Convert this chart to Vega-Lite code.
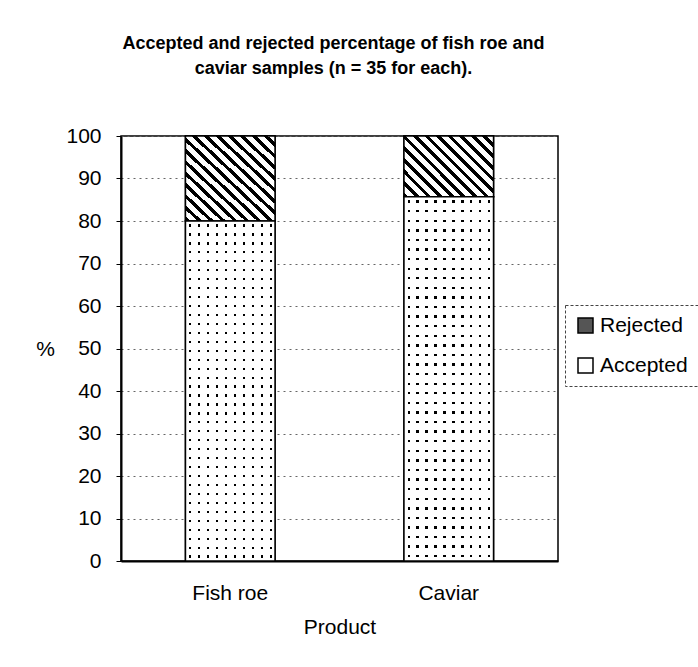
{
  "$schema": "https://vega.github.io/schema/vega-lite/v6.json",
  "width": 437,
  "height": 425,
  "autosize": {"type": "none"},
  "padding": {"left": 121, "top": 136, "right": 140, "bottom": 106},
  "background": "white",
  "config": {
    "font": "Liberation Sans",
    "view": {"stroke": "#000", "strokeWidth": 1.5}
  },
  "title": {
    "text": ["Accepted and rejected percentage of fish roe and", "caviar samples (n = 35 for each)."],
    "fontSize": 18,
    "fontWeight": "bold",
    "lineHeight": 25,
    "offset": 47,
    "dx": -6,
    "color": "#000",
    "anchor": "middle"
  },
  "data": {
    "values": [
      {"Product": "Fish roe", "Status": "Accepted", "Percent": 80},
      {"Product": "Fish roe", "Status": "Rejected", "Percent": 20},
      {"Product": "Caviar", "Status": "Accepted", "Percent": 85.7},
      {"Product": "Caviar", "Status": "Rejected", "Percent": 14.3}
    ]
  },
  "transform": [
    {"stack": "Percent", "groupby": ["Product"], "sort": [{"field": "Status", "order": "ascending"}], "as": ["y0", "y1"]}
  ],
  "encoding": {
    "x": {
      "field": "Product",
      "type": "nominal",
      "sort": ["Fish roe", "Caviar"],
      "scale": {"paddingInner": 0.59, "paddingOuter": 0.295},
      "axis": {
        "title": "Product",
        "labelAngle": 0,
        "labelFontSize": 21,
        "labelColor": "#000",
        "labelPadding": 21,
        "ticks": false,
        "domainColor": "#000",
        "domainWidth": 2,
        "titleFontSize": 21,
        "titleFontWeight": "normal",
        "titleColor": "#000",
        "titlePadding": 13
      }
    },
    "y": {
      "field": "y0",
      "type": "quantitative",
      "scale": {"domain": [0, 100]},
      "axis": {
        "title": "%",
        "titleAngle": 0,
        "titleX": -76,
        "titleY": 213,
        "titleAlign": "center",
        "titleBaseline": "middle",
        "titleFontSize": 21,
        "titleFontWeight": "normal",
        "titleColor": "#000",
        "values": [0, 10, 20, 30, 40, 50, 60, 70, 80, 90, 100],
        "labelFontSize": 21,
        "labelColor": "#000",
        "labelPadding": 15,
        "tickSize": 5,
        "tickColor": "#000",
        "domainColor": "#000",
        "domainWidth": 2,
        "gridDash": [2, 4],
        "gridColor": "#666",
        "gridWidth": 1
      }
    },
    "y2": {"field": "y1"}
  },
  "layer": [
    {
      "mark": {"type": "bar", "stroke": "#000", "strokeWidth": 1.5},
      "encoding": {
        "color": {
          "field": "Status",
          "type": "nominal",
          "scale": {"domain": ["Rejected", "Accepted"], "range": ["#555555", "#ffffff"]},
          "legend": {
            "orient": "none",
            "legendX": 444,
            "legendY": 169,
            "title": null,
            "padding": 10,
            "labelFontSize": 21,
            "labelColor": "#000",
            "labelOffset": 4,
            "symbolType": "square",
            "symbolSize": 225,
            "symbolStrokeColor": "#000",
            "symbolStrokeWidth": 1.5,
            "symbolOpacity": 1,
            "rowPadding": 18,
            "strokeColor": "#444",
            "encode": {
              "legend": {"update": {"strokeDash": {"value": [3, 2]}}}
            }
          }
        }
      }
    },
    {
      "transform": [{"filter": "datum.Status === 'Rejected' && datum.Product === 'Fish roe'"}],
      "mark": {
        "type": "bar",
        "stroke": "#000",
        "strokeWidth": 1.5,
        "fill": {
          "gradient": "linear", "x1": 0, "y1": 1, "x2": 1, "y2": 0,
          "stops": [
            {"offset": 0, "color": "#000"}, {"offset": 0.027, "color": "#000"}, {"offset": 0.027, "color": "#fff"}, {"offset": 0.0667, "color": "#fff"},
            {"offset": 0.0667, "color": "#000"}, {"offset": 0.0937, "color": "#000"}, {"offset": 0.0937, "color": "#fff"}, {"offset": 0.1333, "color": "#fff"},
            {"offset": 0.1333, "color": "#000"}, {"offset": 0.1603, "color": "#000"}, {"offset": 0.1603, "color": "#fff"}, {"offset": 0.2, "color": "#fff"},
            {"offset": 0.2, "color": "#000"}, {"offset": 0.227, "color": "#000"}, {"offset": 0.227, "color": "#fff"}, {"offset": 0.2667, "color": "#fff"},
            {"offset": 0.2667, "color": "#000"}, {"offset": 0.2937, "color": "#000"}, {"offset": 0.2937, "color": "#fff"}, {"offset": 0.3333, "color": "#fff"},
            {"offset": 0.3333, "color": "#000"}, {"offset": 0.3603, "color": "#000"}, {"offset": 0.3603, "color": "#fff"}, {"offset": 0.4, "color": "#fff"},
            {"offset": 0.4, "color": "#000"}, {"offset": 0.427, "color": "#000"}, {"offset": 0.427, "color": "#fff"}, {"offset": 0.4667, "color": "#fff"},
            {"offset": 0.4667, "color": "#000"}, {"offset": 0.4937, "color": "#000"}, {"offset": 0.4937, "color": "#fff"}, {"offset": 0.5333, "color": "#fff"},
            {"offset": 0.5333, "color": "#000"}, {"offset": 0.5603, "color": "#000"}, {"offset": 0.5603, "color": "#fff"}, {"offset": 0.6, "color": "#fff"},
            {"offset": 0.6, "color": "#000"}, {"offset": 0.627, "color": "#000"}, {"offset": 0.627, "color": "#fff"}, {"offset": 0.6667, "color": "#fff"},
            {"offset": 0.6667, "color": "#000"}, {"offset": 0.6937, "color": "#000"}, {"offset": 0.6937, "color": "#fff"}, {"offset": 0.7333, "color": "#fff"},
            {"offset": 0.7333, "color": "#000"}, {"offset": 0.7603, "color": "#000"}, {"offset": 0.7603, "color": "#fff"}, {"offset": 0.8, "color": "#fff"},
            {"offset": 0.8, "color": "#000"}, {"offset": 0.827, "color": "#000"}, {"offset": 0.827, "color": "#fff"}, {"offset": 0.8667, "color": "#fff"},
            {"offset": 0.8667, "color": "#000"}, {"offset": 0.8937, "color": "#000"}, {"offset": 0.8937, "color": "#fff"}, {"offset": 0.9333, "color": "#fff"},
            {"offset": 0.9333, "color": "#000"}, {"offset": 0.9603, "color": "#000"}, {"offset": 0.9603, "color": "#fff"}, {"offset": 1, "color": "#fff"}
          ]
        }
      }
    },
    {
      "transform": [{"filter": "datum.Status === 'Rejected' && datum.Product === 'Caviar'"}],
      "mark": {
        "type": "bar",
        "stroke": "#000",
        "strokeWidth": 1.5,
        "fill": {
          "gradient": "linear", "x1": 0, "y1": 1, "x2": 1.15, "y2": 0.222,
          "stops": [
            {"offset": 0, "color": "#000"}, {"offset": 0.031, "color": "#000"}, {"offset": 0.031, "color": "#fff"}, {"offset": 0.0769, "color": "#fff"},
            {"offset": 0.0769, "color": "#000"}, {"offset": 0.1079, "color": "#000"}, {"offset": 0.1079, "color": "#fff"}, {"offset": 0.1538, "color": "#fff"},
            {"offset": 0.1538, "color": "#000"}, {"offset": 0.1848, "color": "#000"}, {"offset": 0.1848, "color": "#fff"}, {"offset": 0.2308, "color": "#fff"},
            {"offset": 0.2308, "color": "#000"}, {"offset": 0.2618, "color": "#000"}, {"offset": 0.2618, "color": "#fff"}, {"offset": 0.3077, "color": "#fff"},
            {"offset": 0.3077, "color": "#000"}, {"offset": 0.3387, "color": "#000"}, {"offset": 0.3387, "color": "#fff"}, {"offset": 0.3846, "color": "#fff"},
            {"offset": 0.3846, "color": "#000"}, {"offset": 0.4156, "color": "#000"}, {"offset": 0.4156, "color": "#fff"}, {"offset": 0.4615, "color": "#fff"},
            {"offset": 0.4615, "color": "#000"}, {"offset": 0.4925, "color": "#000"}, {"offset": 0.4925, "color": "#fff"}, {"offset": 0.5385, "color": "#fff"},
            {"offset": 0.5385, "color": "#000"}, {"offset": 0.5695, "color": "#000"}, {"offset": 0.5695, "color": "#fff"}, {"offset": 0.6154, "color": "#fff"},
            {"offset": 0.6154, "color": "#000"}, {"offset": 0.6464, "color": "#000"}, {"offset": 0.6464, "color": "#fff"}, {"offset": 0.6923, "color": "#fff"},
            {"offset": 0.6923, "color": "#000"}, {"offset": 0.7233, "color": "#000"}, {"offset": 0.7233, "color": "#fff"}, {"offset": 0.7692, "color": "#fff"},
            {"offset": 0.7692, "color": "#000"}, {"offset": 0.8002, "color": "#000"}, {"offset": 0.8002, "color": "#fff"}, {"offset": 0.8462, "color": "#fff"},
            {"offset": 0.8462, "color": "#000"}, {"offset": 0.8772, "color": "#000"}, {"offset": 0.8772, "color": "#fff"}, {"offset": 0.9231, "color": "#fff"},
            {"offset": 0.9231, "color": "#000"}, {"offset": 0.9541, "color": "#000"}, {"offset": 0.9541, "color": "#fff"}, {"offset": 1, "color": "#fff"}
          ]
        }
      }
    },
    {
      "transform": [{"filter": "datum.Status === 'Accepted'"}],
      "mark": {
        "type": "bar",
        "fill": {
          "gradient": "linear", "x1": 0, "y1": 0, "x2": 1, "y2": 0,
          "stops": [
            {"offset": 0, "color": "#fff"},
            {"offset": 0.04, "color": "#fff"}, {"offset": 0.04, "color": "#000"}, {"offset": 0.065, "color": "#000"}, {"offset": 0.065, "color": "#fff"},
            {"offset": 0.14, "color": "#fff"}, {"offset": 0.14, "color": "#000"}, {"offset": 0.165, "color": "#000"}, {"offset": 0.165, "color": "#fff"},
            {"offset": 0.24, "color": "#fff"}, {"offset": 0.24, "color": "#000"}, {"offset": 0.265, "color": "#000"}, {"offset": 0.265, "color": "#fff"},
            {"offset": 0.34, "color": "#fff"}, {"offset": 0.34, "color": "#000"}, {"offset": 0.365, "color": "#000"}, {"offset": 0.365, "color": "#fff"},
            {"offset": 0.44, "color": "#fff"}, {"offset": 0.44, "color": "#000"}, {"offset": 0.465, "color": "#000"}, {"offset": 0.465, "color": "#fff"},
            {"offset": 0.54, "color": "#fff"}, {"offset": 0.54, "color": "#000"}, {"offset": 0.565, "color": "#000"}, {"offset": 0.565, "color": "#fff"},
            {"offset": 0.64, "color": "#fff"}, {"offset": 0.64, "color": "#000"}, {"offset": 0.665, "color": "#000"}, {"offset": 0.665, "color": "#fff"},
            {"offset": 0.74, "color": "#fff"}, {"offset": 0.74, "color": "#000"}, {"offset": 0.765, "color": "#000"}, {"offset": 0.765, "color": "#fff"},
            {"offset": 0.84, "color": "#fff"}, {"offset": 0.84, "color": "#000"}, {"offset": 0.865, "color": "#000"}, {"offset": 0.865, "color": "#fff"},
            {"offset": 0.94, "color": "#fff"}, {"offset": 0.94, "color": "#000"}, {"offset": 0.965, "color": "#000"}, {"offset": 0.965, "color": "#fff"},
            {"offset": 1, "color": "#fff"}
          ]
        }
      }
    },
    {
      "transform": [{"filter": "datum.Status === 'Accepted'"}],
      "mark": {
        "type": "bar",
        "stroke": "#000",
        "strokeWidth": 1.5,
        "fill": {
          "gradient": "linear", "x1": 0, "y1": 0, "x2": 0, "y2": 1,
          "stops": [
            {"offset": 0, "color": "#fff"},
            {"offset": 0.01, "color": "#fff"}, {"offset": 0.01, "color": "rgba(255,255,255,0)"}, {"offset": 0.0165, "color": "rgba(255,255,255,0)"}, {"offset": 0.0165, "color": "#fff"},
            {"offset": 0.03632, "color": "#fff"}, {"offset": 0.03632, "color": "rgba(255,255,255,0)"}, {"offset": 0.04282, "color": "rgba(255,255,255,0)"}, {"offset": 0.04282, "color": "#fff"},
            {"offset": 0.06263, "color": "#fff"}, {"offset": 0.06263, "color": "rgba(255,255,255,0)"}, {"offset": 0.06913, "color": "rgba(255,255,255,0)"}, {"offset": 0.06913, "color": "#fff"},
            {"offset": 0.08895, "color": "#fff"}, {"offset": 0.08895, "color": "rgba(255,255,255,0)"}, {"offset": 0.09545, "color": "rgba(255,255,255,0)"}, {"offset": 0.09545, "color": "#fff"},
            {"offset": 0.11526, "color": "#fff"}, {"offset": 0.11526, "color": "rgba(255,255,255,0)"}, {"offset": 0.12176, "color": "rgba(255,255,255,0)"}, {"offset": 0.12176, "color": "#fff"},
            {"offset": 0.14158, "color": "#fff"}, {"offset": 0.14158, "color": "rgba(255,255,255,0)"}, {"offset": 0.14808, "color": "rgba(255,255,255,0)"}, {"offset": 0.14808, "color": "#fff"},
            {"offset": 0.16789, "color": "#fff"}, {"offset": 0.16789, "color": "rgba(255,255,255,0)"}, {"offset": 0.17439, "color": "rgba(255,255,255,0)"}, {"offset": 0.17439, "color": "#fff"},
            {"offset": 0.19421, "color": "#fff"}, {"offset": 0.19421, "color": "rgba(255,255,255,0)"}, {"offset": 0.20071, "color": "rgba(255,255,255,0)"}, {"offset": 0.20071, "color": "#fff"},
            {"offset": 0.22053, "color": "#fff"}, {"offset": 0.22053, "color": "rgba(255,255,255,0)"}, {"offset": 0.22703, "color": "rgba(255,255,255,0)"}, {"offset": 0.22703, "color": "#fff"},
            {"offset": 0.24684, "color": "#fff"}, {"offset": 0.24684, "color": "rgba(255,255,255,0)"}, {"offset": 0.25334, "color": "rgba(255,255,255,0)"}, {"offset": 0.25334, "color": "#fff"},
            {"offset": 0.27316, "color": "#fff"}, {"offset": 0.27316, "color": "rgba(255,255,255,0)"}, {"offset": 0.27966, "color": "rgba(255,255,255,0)"}, {"offset": 0.27966, "color": "#fff"},
            {"offset": 0.29947, "color": "#fff"}, {"offset": 0.29947, "color": "rgba(255,255,255,0)"}, {"offset": 0.30597, "color": "rgba(255,255,255,0)"}, {"offset": 0.30597, "color": "#fff"},
            {"offset": 0.32579, "color": "#fff"}, {"offset": 0.32579, "color": "rgba(255,255,255,0)"}, {"offset": 0.33229, "color": "rgba(255,255,255,0)"}, {"offset": 0.33229, "color": "#fff"},
            {"offset": 0.35211, "color": "#fff"}, {"offset": 0.35211, "color": "rgba(255,255,255,0)"}, {"offset": 0.35861, "color": "rgba(255,255,255,0)"}, {"offset": 0.35861, "color": "#fff"},
            {"offset": 0.37842, "color": "#fff"}, {"offset": 0.37842, "color": "rgba(255,255,255,0)"}, {"offset": 0.38492, "color": "rgba(255,255,255,0)"}, {"offset": 0.38492, "color": "#fff"},
            {"offset": 0.40474, "color": "#fff"}, {"offset": 0.40474, "color": "rgba(255,255,255,0)"}, {"offset": 0.41124, "color": "rgba(255,255,255,0)"}, {"offset": 0.41124, "color": "#fff"},
            {"offset": 0.43105, "color": "#fff"}, {"offset": 0.43105, "color": "rgba(255,255,255,0)"}, {"offset": 0.43755, "color": "rgba(255,255,255,0)"}, {"offset": 0.43755, "color": "#fff"},
            {"offset": 0.45737, "color": "#fff"}, {"offset": 0.45737, "color": "rgba(255,255,255,0)"}, {"offset": 0.46387, "color": "rgba(255,255,255,0)"}, {"offset": 0.46387, "color": "#fff"},
            {"offset": 0.48368, "color": "#fff"}, {"offset": 0.48368, "color": "rgba(255,255,255,0)"}, {"offset": 0.49018, "color": "rgba(255,255,255,0)"}, {"offset": 0.49018, "color": "#fff"},
            {"offset": 0.51, "color": "#fff"}, {"offset": 0.51, "color": "rgba(255,255,255,0)"}, {"offset": 0.5165, "color": "rgba(255,255,255,0)"}, {"offset": 0.5165, "color": "#fff"},
            {"offset": 0.53632, "color": "#fff"}, {"offset": 0.53632, "color": "rgba(255,255,255,0)"}, {"offset": 0.54282, "color": "rgba(255,255,255,0)"}, {"offset": 0.54282, "color": "#fff"},
            {"offset": 0.56263, "color": "#fff"}, {"offset": 0.56263, "color": "rgba(255,255,255,0)"}, {"offset": 0.56913, "color": "rgba(255,255,255,0)"}, {"offset": 0.56913, "color": "#fff"},
            {"offset": 0.58895, "color": "#fff"}, {"offset": 0.58895, "color": "rgba(255,255,255,0)"}, {"offset": 0.59545, "color": "rgba(255,255,255,0)"}, {"offset": 0.59545, "color": "#fff"},
            {"offset": 0.61526, "color": "#fff"}, {"offset": 0.61526, "color": "rgba(255,255,255,0)"}, {"offset": 0.62176, "color": "rgba(255,255,255,0)"}, {"offset": 0.62176, "color": "#fff"},
            {"offset": 0.64158, "color": "#fff"}, {"offset": 0.64158, "color": "rgba(255,255,255,0)"}, {"offset": 0.64808, "color": "rgba(255,255,255,0)"}, {"offset": 0.64808, "color": "#fff"},
            {"offset": 0.66789, "color": "#fff"}, {"offset": 0.66789, "color": "rgba(255,255,255,0)"}, {"offset": 0.67439, "color": "rgba(255,255,255,0)"}, {"offset": 0.67439, "color": "#fff"},
            {"offset": 0.69421, "color": "#fff"}, {"offset": 0.69421, "color": "rgba(255,255,255,0)"}, {"offset": 0.70071, "color": "rgba(255,255,255,0)"}, {"offset": 0.70071, "color": "#fff"},
            {"offset": 0.72053, "color": "#fff"}, {"offset": 0.72053, "color": "rgba(255,255,255,0)"}, {"offset": 0.72703, "color": "rgba(255,255,255,0)"}, {"offset": 0.72703, "color": "#fff"},
            {"offset": 0.74684, "color": "#fff"}, {"offset": 0.74684, "color": "rgba(255,255,255,0)"}, {"offset": 0.75334, "color": "rgba(255,255,255,0)"}, {"offset": 0.75334, "color": "#fff"},
            {"offset": 0.77316, "color": "#fff"}, {"offset": 0.77316, "color": "rgba(255,255,255,0)"}, {"offset": 0.77966, "color": "rgba(255,255,255,0)"}, {"offset": 0.77966, "color": "#fff"},
            {"offset": 0.79947, "color": "#fff"}, {"offset": 0.79947, "color": "rgba(255,255,255,0)"}, {"offset": 0.80597, "color": "rgba(255,255,255,0)"}, {"offset": 0.80597, "color": "#fff"},
            {"offset": 0.82579, "color": "#fff"}, {"offset": 0.82579, "color": "rgba(255,255,255,0)"}, {"offset": 0.83229, "color": "rgba(255,255,255,0)"}, {"offset": 0.83229, "color": "#fff"},
            {"offset": 0.85211, "color": "#fff"}, {"offset": 0.85211, "color": "rgba(255,255,255,0)"}, {"offset": 0.85861, "color": "rgba(255,255,255,0)"}, {"offset": 0.85861, "color": "#fff"},
            {"offset": 0.87842, "color": "#fff"}, {"offset": 0.87842, "color": "rgba(255,255,255,0)"}, {"offset": 0.88492, "color": "rgba(255,255,255,0)"}, {"offset": 0.88492, "color": "#fff"},
            {"offset": 0.90474, "color": "#fff"}, {"offset": 0.90474, "color": "rgba(255,255,255,0)"}, {"offset": 0.91124, "color": "rgba(255,255,255,0)"}, {"offset": 0.91124, "color": "#fff"},
            {"offset": 0.93105, "color": "#fff"}, {"offset": 0.93105, "color": "rgba(255,255,255,0)"}, {"offset": 0.93755, "color": "rgba(255,255,255,0)"}, {"offset": 0.93755, "color": "#fff"},
            {"offset": 0.95737, "color": "#fff"}, {"offset": 0.95737, "color": "rgba(255,255,255,0)"}, {"offset": 0.96387, "color": "rgba(255,255,255,0)"}, {"offset": 0.96387, "color": "#fff"},
            {"offset": 0.98368, "color": "#fff"}, {"offset": 0.98368, "color": "rgba(255,255,255,0)"}, {"offset": 0.99018, "color": "rgba(255,255,255,0)"}, {"offset": 0.99018, "color": "#fff"},
            {"offset": 1, "color": "#fff"}
          ]
        }
      }
    }
  ]
}
